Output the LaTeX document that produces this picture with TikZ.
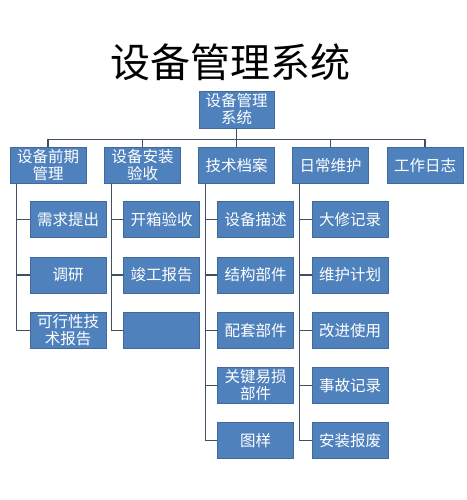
\documentclass[tikz,border=0pt]{standalone}
\usepackage{fontspec}
\newfontfamily\cjk{Noto Sans CJK SC}
\usepackage{tikz}
\usepackage{xcolor}
\usetikzlibrary{calc, positioning}

\definecolor{boxblue}{HTML}{4F81BD}
\definecolor{boxline}{HTML}{41699A}
\definecolor{linkgray}{HTML}{3F4F66}

\tikzset{
    box/.style={draw=boxline, line width=0.6pt, fill=boxblue, text=white, font=\cjk\fontsize{15.5}{17}\selectfont, align=center, inner sep=0pt, minimum height=36pt},
    link/.style={draw=linkgray, line width=1.4pt}
}

\begin{document}
\begin{tikzpicture}[x=1pt, y=-1pt]
                            \useasboundingbox (0, 0) rectangle (466, 500);
                            \node[font=\cjk\fontsize{40}{44}\selectfont] (title) at (230, 62) {设备管理系统};

                            \node[box, minimum width=75pt, minimum height=37pt] (root) at (236.5, 109.5) {设备管理\\系统};

                            \node[box, minimum width=76pt] (pre) at (48, 165.5) {设备前期\\管理};
                            \node[box, minimum width=76pt] (inst) at (142.5, 165.5) {设备安装\\验收};
                            \node[box, minimum width=76pt] (tech) at (236.5, 165.5) {技术档案};
                            \node[box, minimum width=76pt] (daily) at (330.5, 165.5) {日常维护};
                            \node[box, minimum width=76pt] (log) at (425, 165.5) {工作日志};

                            \node[box, minimum width=76pt] (pre1) at (68, 219.5) {需求提出};
                            \node[box, minimum width=76pt] (pre2) at (68, 275) {调研};
                            \node[box, minimum width=76pt] (pre3) at (68, 330.5) {可行性技\\术报告};

                            \node[box, minimum width=76pt] (inst1) at (161.5, 219.5) {开箱验收};
                            \node[box, minimum width=76pt] (inst2) at (161.5, 275) {竣工报告};
                            \node[box, minimum width=76pt] (inst3) at (161.5, 330.5) {};

                            \node[box, minimum width=76pt] (tech1) at (255.5, 219.5) {设备描述};
                            \node[box, minimum width=76pt] (tech2) at (255.5, 275) {结构部件};
                            \node[box, minimum width=76pt] (tech3) at (255.5, 330.5) {配套部件};
                            \node[box, minimum width=76pt] (tech4) at (255.5, 385.5) {关键易损\\部件};
                            \node[box, minimum width=76pt] (tech5) at (255.5, 440.5) {图样};

                            \node[box, minimum width=76pt] (daily1) at (350, 219.5) {大修记录};
                            \node[box, minimum width=76pt] (daily2) at (350, 275) {维护计划};
                            \node[box, minimum width=76pt] (daily3) at (350, 330.5) {改进使用};
                            \node[box, minimum width=76pt] (daily4) at (350, 385.5) {事故记录};
                            \node[box, minimum width=76pt] (daily5) at (350, 440.5) {安装报废};

                            % root to first level
                            \foreach \top in {pre, inst, tech, daily, log}
                                \draw[link] (root.south) -- ++(0, 11) -| (\top.north);

                            % first level to children
                            \foreach \top/\sub in {pre/pre1, pre/pre2, pre/pre3, inst/inst1, inst/inst2, inst/inst3,
                                    tech/tech1, tech/tech2, tech/tech3, tech/tech4, tech/tech5,
                                    daily/daily1, daily/daily2, daily/daily3, daily/daily4, daily/daily5}
                                \draw[link] ([xshift=7pt]\top.south west) |- (\sub.west);
                        \end{tikzpicture}
\end{document}
